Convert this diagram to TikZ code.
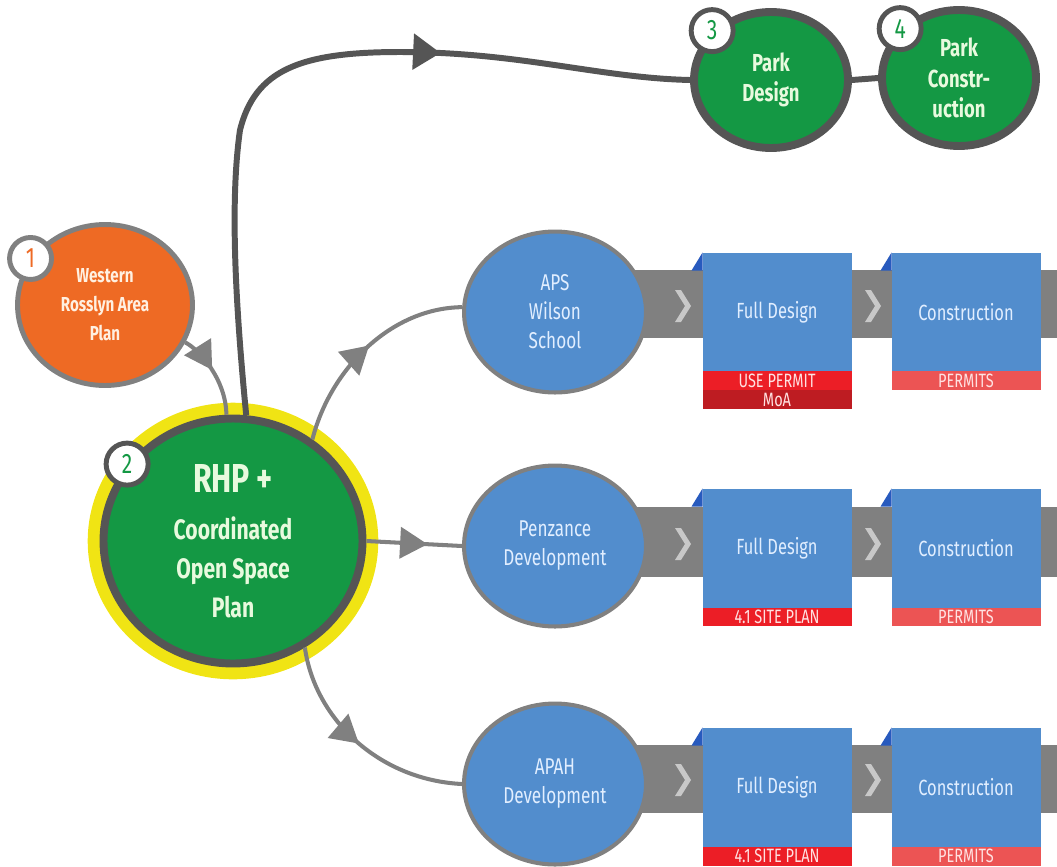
\documentclass[tikz,border=0pt]{standalone}
\usepackage{fontspec}
\setmainfont{Fira Sans}[FakeStretch=0.75]
\usetikzlibrary{positioning, shapes.geometric, arrows.meta, decorations.markings}

\definecolor{wrporange}{RGB}{238,106,36}
\definecolor{plangreen}{RGB}{20,152,68}
\definecolor{ringyellow}{RGB}{240,228,20}
\definecolor{darkline}{RGB}{85,85,85}
\definecolor{midline}{RGB}{128,128,128}
\definecolor{sitblue}{RGB}{82,141,205}
\definecolor{foldblue}{RGB}{40,90,190}
\definecolor{bandgray}{RGB}{128,128,128}
\definecolor{chevgray}{RGB}{200,200,200}
\definecolor{permred}{RGB}{236,30,38}
\definecolor{moared}{RGB}{190,28,34}
\definecolor{permpink}{RGB}{236,84,84}
\definecolor{wrptext}{RGB}{255,240,225}
\definecolor{greentext}{RGB}{232,250,222}
\definecolor{bluetext}{RGB}{225,238,255}
\definecolor{striptext}{RGB}{255,225,225}

\tikzset{
  wrpcircle/.style={ellipse, fill=wrporange, draw=midline, line width=2.8pt,
    minimum width=3.5cm, minimum height=3.22cm, inner sep=0pt, align=center,
    text=wrptext, font=\bfseries\fontsize{11.5}{16.5}\selectfont},
  rhpcircle/.style={ellipse, fill=plangreen, draw=darkline, line width=4.5pt,
    preaction={draw=ringyellow, line width=18pt},
    minimum width=5.18cm, minimum height=4.9cm, inner sep=0pt, align=center,
    text=greentext, font=\bfseries\fontsize{16}{22}\selectfont},
  parkcircle/.style={ellipse, fill=plangreen, draw=darkline, line width=4.5pt,
    minimum width=3.08cm, minimum height=2.72cm, inner sep=0pt, align=center,
    text=greentext, font=\bfseries\fontsize{14}{17.5}\selectfont},
  site/.style={ellipse, fill=sitblue, draw=midline, line width=2.3pt,
    minimum width=3.64cm, minimum height=3.22cm, inner sep=0pt, align=center,
    text=bluetext, font=\fontsize{13}{16.5}\selectfont},
  badge/.style={circle, fill=white, draw=darkline, line width=2.8pt,
    minimum size=0.84cm, inner sep=0pt, font=\fontsize{16}{16}\selectfont},
  stagebox/.style={rectangle, fill=sitblue, minimum width=2.98cm, minimum height=2.38cm,
    outer sep=0pt, inner sep=0pt, text=bluetext, font=\fontsize{12.5}{14}\selectfont},
  strip/.style={rectangle, minimum width=2.98cm, minimum height=0.38cm,
    outer sep=0pt, inner sep=0pt, text=striptext, font=\fontsize{11}{11}\selectfont},
  band/.style={fill=bandgray},
  chev/.style={fill=chevgray},
  fold/.style={fill=foldblue},
  darkconn/.style={color=darkline, line width=3.4pt},
  midconn/.style={color=midline, line width=2.3pt},
  darkarrowat/.style={postaction={decorate, decoration={markings,
    mark=at position #1 with {\arrow{Triangle[length=0.55cm, width=0.7cm]}}}}},
  midarrowat/.style={postaction={decorate, decoration={markings,
    mark=at position #1 with {\arrow{Triangle[length=0.55cm, width=0.62cm]}}}}},
}

\begin{document}
\begin{tikzpicture}[x=0.02cm, y=-0.02cm]
  \useasboundingbox (0,0) rectangle (1057,866);
  % grey bands behind the three site rows
  \fill[band] (555,270) rectangle (1057,338);
  \fill[band] (555,507) rectangle (1057,577);
  \fill[band] (555,745) rectangle (1057,813);
  \fill[chev] (675,290) -- ++(6,0) -- ++(10,16) -- ++(-10,16) -- ++(-6,0) -- ++(10,-16) -- cycle;
  \fill[chev] (865,290) -- ++(6,0) -- ++(10,16) -- ++(-10,16) -- ++(-6,0) -- ++(10,-16) -- cycle;
  \fill[chev] (675,528) -- ++(6,0) -- ++(10,16) -- ++(-10,16) -- ++(-6,0) -- ++(10,-16) -- cycle;
  \fill[chev] (865,528) -- ++(6,0) -- ++(10,16) -- ++(-10,16) -- ++(-6,0) -- ++(10,-16) -- cycle;
  \fill[chev] (675,764) -- ++(6,0) -- ++(10,16) -- ++(-10,16) -- ++(-6,0) -- ++(10,-16) -- cycle;
  \fill[chev] (865,764) -- ++(6,0) -- ++(10,16) -- ++(-10,16) -- ++(-6,0) -- ++(10,-16) -- cycle;

  % plans
  \node[wrpcircle] (wrp) at (105,305) {Western\\Rosslyn Area\\Plan};
  \node[rhpcircle] (rhp) at (233,541) {{\fontsize{23}{23}\selectfont RHP\,+}\\[5pt]Coordinated\\Open Space\\Plan};
  \node[parkcircle] (pdes) at (771,80) {Park\\Design};
  \node[parkcircle] (pcon) at (959,78) {Park\\Constr-\\uction};

  % sites
  \node[site] (aps) at (555,312) {APS\\Wilson\\School};
  \node[site] (penz) at (555,546) {Penzance\\Development};
  \node[site] (apah) at (555,784) {APAH\\Development};

  % stage boxes
  \node[stagebox] (fd1) at (777,312) {Full Design};
  \node[stagebox] (cn1) at (966,312) {Construction};
  \node[stagebox] (fd2) at (777,548) {Full Design};
  \node[stagebox] (cn2) at (966,548) {Construction};
  \node[stagebox] (fd3) at (777,787) {Full Design};
  \node[stagebox] (cn3) at (966,787) {Construction};
  \fill[fold] (fd1.north west) -- ++(0,18) -- ++(-11,0) -- cycle;
  \fill[fold] (cn1.north west) -- ++(0,18) -- ++(-11,0) -- cycle;
  \fill[fold] (fd2.north west) -- ++(0,18) -- ++(-11,0) -- cycle;
  \fill[fold] (cn2.north west) -- ++(0,18) -- ++(-11,0) -- cycle;
  \fill[fold] (fd3.north west) -- ++(0,18) -- ++(-11,0) -- cycle;
  \fill[fold] (cn3.north west) -- ++(0,18) -- ++(-11,0) -- cycle;
  \node[strip, fill=permred, below=0pt of fd1] (fd1s) {USE PERMIT};
  \node[strip, fill=moared, below=0pt of fd1s] (fd1m) {MoA};
  \node[strip, fill=permpink, below=0pt of cn1] (cn1s) {PERMITS};
  \node[strip, fill=permred, below=0pt of fd2] (fd2s) {4.1 SITE PLAN};
  \node[strip, fill=permpink, below=0pt of cn2] (cn2s) {PERMITS};
  \node[strip, fill=permred, below=0pt of fd3] (fd3s) {4.1 SITE PLAN};
  \node[strip, fill=permpink, below=0pt of cn3] (cn3s) {PERMITS};

  % connectors
  \draw[darkconn, darkarrowat=0.675] (rhp.84) .. controls (235,300) and (230,200) .. (240,130)
    .. controls (255,70) and (300,52) .. (400,52) .. controls (520,52) and (600,78) .. (pdes.west);
  \draw[darkconn] (pdes.east) -- (pcon.west);
  \draw[midconn, midarrowat=0.45] (wrp.-25) .. controls (200,350) and (226,380) .. (rhp.93);
  \draw[midconn, midarrowat=0.52] (rhp.52) .. controls (330,370) and (390,308) .. (aps.177);
  \draw[midconn, midarrowat=0.64] (rhp.east) -- (penz.west);
  \draw[midconn, midarrowat=0.5] (rhp.-56) .. controls (315,720) and (380,780) .. (apah.west);

  % step numbers
  \node[badge, draw=midline, text=wrporange] (n1) at (wrp.148) {1};
  \node[badge, text=plangreen] (n2) at (rhp.144) {2};
  \node[badge, text=plangreen] (n3) at (pdes.140) {3};
  \node[badge, text=plangreen] (n4) at (pcon.140) {4};
\end{tikzpicture}
\end{document}
